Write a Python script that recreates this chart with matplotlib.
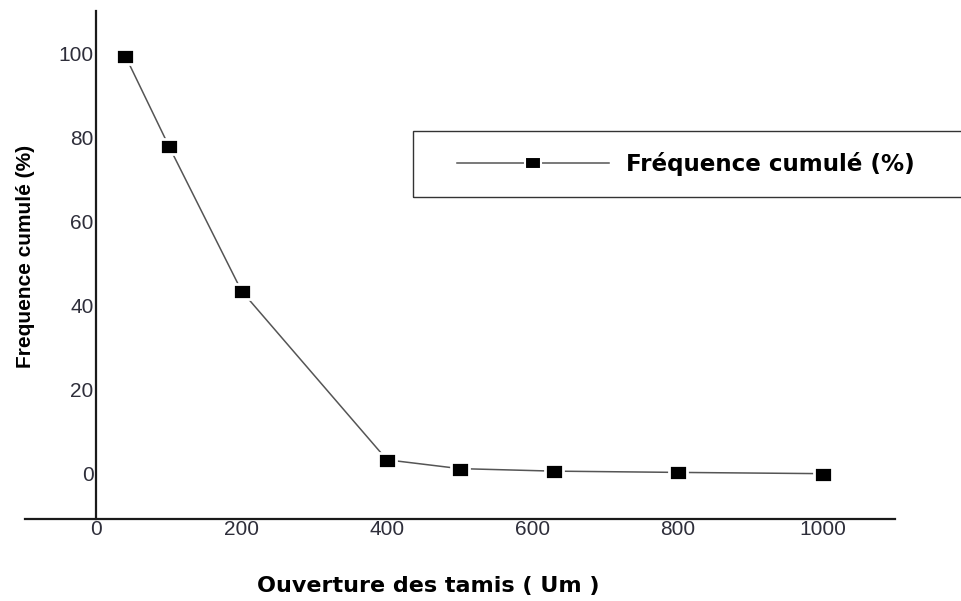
import matplotlib
matplotlib.use("Agg")
import matplotlib.pyplot as plt
from matplotlib import font_manager
from matplotlib.patches import Rectangle

# sieve openings (um) and cumulative frequency (%)
ouverture = [40, 100, 200, 400, 500, 630, 800, 1000]
frequence = [99.5, 78, 43.5, 3.3, 1.2, 0.6, 0.3, 0.0]

x_ticks = [0, 200, 400, 600, 800, 1000]
y_ticks = [0, 20, 40, 60, 80, 100]

tick_color = "#2e2e3a"

# narrow bold font for the y label if we have it
try:
    font_manager.findfont("Liberation Sans Narrow", fallback_to_default=False)
    narrow = "Liberation Sans Narrow"
    ylab_size = 17
except ValueError:
    narrow = "Liberation Sans"
    ylab_size = 15

# slightly wide square, like the original
box = [(-1, -0.8), (1, -0.8), (1, 0.8), (-1, 0.8), (-1, -0.8)]

fig = plt.figure(figsize=(9.61, 6.01), dpi=100)
ax = fig.add_axes([25 / 961, 82 / 601, 870 / 961, 508 / 601])

line, = ax.plot(ouverture, frequence, color="#555555", linewidth=1.1,
                marker=box, markersize=13.5, markerfacecolor="black",
                markeredgecolor="white", markeredgewidth=2,
                label="Fréquence cumulé (%)")

ax.set_xlim(-98, 1099)
ax.set_ylim(-10.8, 110.2)

for s in ["top", "right"]:
    ax.spines[s].set_visible(False)
ax.spines["left"].set_position(("data", 0))
for s in ["left", "bottom"]:
    ax.spines[s].set_linewidth(1.6)
    ax.spines[s].set_color("#1a1a1a")

ax.set_xticks(x_ticks)
ax.set_yticks(y_ticks)
ax.tick_params(axis="both", length=0, labelsize=15, labelcolor=tick_color,
               labelfontfamily="Liberation Sans")
ax.tick_params(axis="x", pad=1)
ax.tick_params(axis="y", pad=2)

fig.text(428 / 961, 1 - 586 / 601, "Ouverture des tamis ( Um )",
         ha="center", va="center", fontsize=16, fontweight="bold",
         family="DejaVu Sans", color="black")
fig.text(26 / 961, 1 - 256 / 601, "Frequence cumulé (%)", rotation=90,
         ha="center", va="center", fontsize=ylab_size, fontweight="bold",
         family=narrow, color="black")

# legend box runs off the right edge in the original
fig.add_artist(Rectangle((413 / 961, 1 - 197 / 601), 600 / 961, 66 / 601,
                         transform=fig.transFigure, fill=False,
                         edgecolor="#333333", linewidth=1.0, clip_on=False))
leg = fig.legend(handles=[line], loc="center left",
                 bbox_to_anchor=(457 / 961, 1 - 164 / 601),
                 frameon=False, borderpad=0, borderaxespad=0,
                 handlelength=6.6, handletextpad=0.75,
                 prop={"family": "DejaVu Sans", "weight": "bold", "size": 16.6})
for h in leg.legend_handles:
    h.set_markersize(11)
    h.set_markeredgewidth(1.5)

fig.savefig("out.png", dpi=100)
